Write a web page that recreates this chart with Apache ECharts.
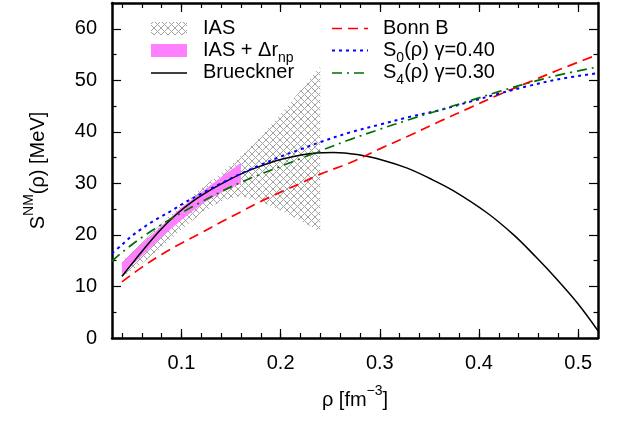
<!DOCTYPE html>
<html>
<head>
<meta charset="utf-8">
<script src="https://cdn.jsdelivr.net/npm/echarts@6/dist/echarts.min.js"></script>
<style>html,body{margin:0;padding:0;background:#fff}#c{width:625px;height:424px}</style>
</head>
<body>
<div id="c"></div>
<script>
// ---- data ----
const rhoBrueckner = [0.040,0.048,0.062,0.078,0.095,0.112,0.129,0.146,0.162,0.179,0.203,0.236,0.253,0.277,0.303,0.327,0.350,0.374,0.408,0.435,0.457,0.478,0.500,0.520];
const sBrueckner   = [12.0,13.9,17.2,20.8,24.0,26.6,28.7,30.5,32.0,33.3,34.8,35.9,36.0,35.6,34.5,33.0,31.0,28.6,24.3,20.0,15.8,11.5,6.6,1.4];

const rhoBonnB = [0.04,0.06,0.08,0.10,0.12,0.14,0.16,0.18,0.20,0.22,0.24,0.27,0.30,0.33,0.36,0.39,0.42,0.45,0.48,0.52];
const sBonnB   = [10.9,13.7,16.2,18.4,20.4,22.5,24.5,26.5,28.3,30.0,31.8,34.0,36.7,39.3,42.0,44.6,47.2,49.6,52.0,55.0];

const rhoS0 = [0.03,0.04,0.05,0.06,0.07,0.08,0.09,0.10,0.12,0.14,0.16,0.18,0.20,0.22,0.24,0.27,0.30,0.33,0.36,0.39,0.42,0.45,0.48,0.52];
const sS0   = [16.4,18.1,19.8,21.2,22.5,23.6,24.7,25.9,28.0,30.0,31.9,33.6,35.2,36.6,38.0,39.9,41.4,42.9,44.2,45.8,47.4,48.9,50.2,51.4];

const rhoS4 = [0.03,0.04,0.05,0.06,0.07,0.08,0.09,0.10,0.12,0.14,0.16,0.18,0.20,0.22,0.24,0.27,0.30,0.33,0.36,0.39,0.42,0.45,0.48,0.52];
const sS4   = [14.9,16.6,18.1,19.5,20.8,22.0,23.2,24.3,26.4,28.4,30.2,31.8,33.3,34.8,36.3,38.5,40.5,42.4,44.2,46.0,47.8,49.5,51.0,52.6];

const rhoIAS   = [0.04,0.06,0.08,0.10,0.12,0.14,0.16,0.18,0.20,0.22,0.24];
const sIASlow  = [11.8,14.4,17.6,21.0,24.2,26.6,27.6,26.5,24.8,22.8,20.6];
const sIAShigh = [14.8,18.5,22.2,25.8,29.0,32.0,35.3,39.1,43.4,48.0,52.7];

const rhoIASnp   = [0.04,0.06,0.08,0.10,0.12,0.14,0.16];
const sIASnpLow  = [12.4,15.9,19.6,22.9,25.9,28.2,30.0];
const sIASnpHigh = [14.6,18.3,21.8,25.3,28.3,31.2,34.0];

const xMajorTicks = [0.1,0.2,0.3,0.4,0.5];
const xMinorTicks = [0.04,0.06,0.08,0.10,0.12,0.14,0.16,0.18,0.20,0.22,0.24,0.26,0.28,0.30,0.32,0.34,0.36,0.38,0.40,0.42,0.44,0.46,0.48,0.50];
const yMajorTicks = [0,10,20,30,40,50,60];
const yMinorTicks = [5,15,25,35,45,55];

// ---- helpers ----
const FONT = "'Liberation Sans', Arial, Helvetica, sans-serif";
const FS = 20;
function zip(xs, ys){ return xs.map((x,i)=>[x, ys[i]]); }
function makeHatch(){
  const c = document.createElement('canvas'); c.width = 7; c.height = 7;
  const g = c.getContext('2d');
  g.strokeStyle = '#a3a3a3'; g.lineWidth = 1;
  g.beginPath(); g.moveTo(0,0); g.lineTo(7,7); g.moveTo(7,0); g.lineTo(0,7); g.stroke();
  return c;
}
const hatch = {image: makeHatch(), repeat: 'repeat'};
const PINK = '#ff80ff';
function band(xs, lo, hi, fill, z){
  return {
    type: 'custom', coordinateSystem: 'cartesian2d', silent: true, clip: true, z: z,
    data: [[xs[0], lo[0]]],
    renderItem: function(params, api){
      const pts = [];
      for (let i = 0; i < xs.length; i++) pts.push(api.coord([xs[i], hi[i]]));
      for (let i = xs.length - 1; i >= 0; i--) pts.push(api.coord([xs[i], lo[i]]));
      return {type: 'polygon', shape: {points: pts}, style: {fill: fill}};
    }
  };
}
function lineSeries(name, xs, ys, ls, z){
  return {name, type: 'line', data: zip(xs, ys), showSymbol: false, smooth: 0.35,
          lineStyle: ls, z: z, silent: true, clip: true};
}
const XMIN = 0.03, XMAX = 0.52, YMIN = 0, YMAX = 65;
function xAx(pos, major, labels){
  return {type:'value', position: pos, min: XMIN, max: XMAX, splitLine:{show:false},
    axisLine:{show: major, onZero:false, lineStyle:{color:'#000', width:2.5}},
    axisTick:{show:true, inside:true, length: major?9:5, customValues: major?xMajorTicks:xMinorTicks, lineStyle:{color:'#000', width:1.2}},
    axisLabel:{show: labels, customValues: xMajorTicks, margin: 15, color:'#000', fontFamily: FONT, fontSize: FS,
      formatter: v => v.toFixed(1)},
    name: labels ? '{n|ρ [fm}{sup|−3}{n|]}' : '', nameLocation:'middle', nameGap: 46,
    nameTextStyle: {color:'#000', fontFamily: FONT, rich: {
      n: {fontSize: FS, fontFamily: FONT, color:'#000', lineHeight: 26, verticalAlign:'bottom'},
      sup: {fontSize: 14, fontFamily: FONT, color:'#000', verticalAlign:'top'}}}
  };
}
function yAx(pos, major, labels){
  return {type:'value', position: pos, min: YMIN, max: YMAX, splitLine:{show:false},
    axisLine:{show: major, onZero:false, lineStyle:{color:'#000', width:2.5}},
    axisTick:{show:true, inside:true, length: major?9:4.5, customValues: major?yMajorTicks:yMinorTicks, lineStyle:{color:'#000', width:1.2}},
    axisLabel:{show: labels, customValues: yMajorTicks, margin: 15, color:'#000', fontFamily: FONT, fontSize: FS},
    name: labels ? '{n|S}{sup|NM}{n|(ρ) [MeV]}' : '', nameLocation:'middle', nameGap: 64, nameRotate: 90,
    nameTextStyle: {color:'#000', fontFamily: FONT, rich: {
      n: {fontSize: FS, fontFamily: FONT, color:'#000', lineHeight: 26, verticalAlign:'bottom'},
      sup: {fontSize: 14, fontFamily: FONT, color:'#000', verticalAlign:'top'}}}
  };
}

const chart = echarts.init(document.getElementById('c'), null, {renderer:'canvas'});

const legendRich = {
  n: {fontSize: FS, fontFamily: FONT, color:'#000', lineHeight: 25, verticalAlign:'top'},
  sub: {fontSize: 14, fontFamily: FONT, color:'#000', verticalAlign:'bottom'}
};
function ltext(x, y, t){
  return {type:'text', z: 100, style:{x, y, text: t, rich: legendRich, fill:'#000',
    font: FS + 'px ' + FONT, fontSize: FS, fontFamily: FONT,
    align:'left', verticalAlign:'middle', textAlign:'left', textVerticalAlign:'middle'}};
}
const L1 = 151, L2 = 332, LW = 36, R1 = 28.5, R2 = 50.5, R3 = 73;

const option = {
  animation: false,
  backgroundColor: '#fff',
  grid: {left: 112, right: 27, top: 3, bottom: 86, containLabel: false},
  xAxis: [xAx('bottom', true, true), xAx('bottom', false, false), xAx('top', true, false), xAx('top', false, false)],
  yAxis: [yAx('left', true, true), yAx('left', false, false), yAx('right', true, false), yAx('right', false, false)],
  series: [
    band(rhoIAS, sIASlow, sIAShigh, hatch, 1),
    band(rhoIASnp, sIASnpLow, sIASnpHigh, PINK, 2),
    lineSeries('Brueckner', rhoBrueckner, sBrueckner, {color:'#000', width:1.5}, 3),
    lineSeries('Bonn B', rhoBonnB, sBonnB, {color:'#ff0000', width:1.7, type:[10,6]}, 4),
    lineSeries('S0', rhoS0, sS0, {color:'#0000ff', width:2, type:[3,4]}, 5),
    lineSeries('S4', rhoS4, sS4, {color:'#007000', width:1.7, type:[10,5,2,5]}, 6)
  ],
  graphic: [
    {type:'rect', z:100, shape:{x:L1, y:R1-6.5, width:LW, height:13}, style:{fill: hatch}},
    {type:'rect', z:100, shape:{x:L1, y:R2-6.5, width:LW, height:13}, style:{fill: PINK}},
    {type:'line', z:100, shape:{x1:L1, y1:R3, x2:L1+LW, y2:R3}, style:{stroke:'#000', lineWidth:1.5}},
    {type:'line', z:100, shape:{x1:L2, y1:R1, x2:L2+LW, y2:R1}, style:{stroke:'#ff0000', lineWidth:1.7, lineDash:[10,6]}},
    {type:'line', z:100, shape:{x1:L2, y1:R2, x2:L2+LW, y2:R2}, style:{stroke:'#0000ff', lineWidth:2, lineDash:[3,4]}},
    {type:'line', z:100, shape:{x1:L2, y1:R3, x2:L2+LW, y2:R3}, style:{stroke:'#007000', lineWidth:1.7, lineDash:[10,5,2,5]}},
    ltext(203, R1+2, '{n|IAS}'),
    ltext(203, R2+2, '{n|IAS + Δr}{sub|np}'),
    ltext(203, R3+2, '{n|Brueckner}'),
    ltext(383, R1+2, '{n|Bonn B}'),
    ltext(383, R2+2, '{n|S}{sub|0}{n|(ρ) γ=0.40}'),
    ltext(383, R3+2, '{n|S}{sub|4}{n|(ρ) γ=0.30}')
  ]
};
chart.setOption(option);
</script>
</body>
</html>
